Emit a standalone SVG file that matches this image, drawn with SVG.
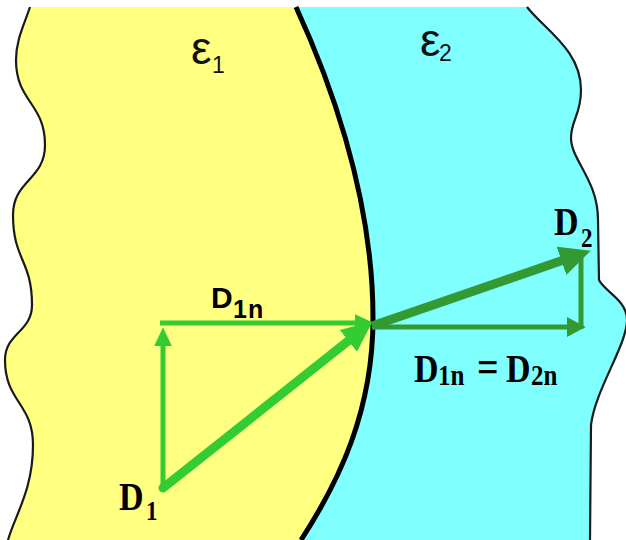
<svg xmlns="http://www.w3.org/2000/svg" width="626" height="540" viewBox="0 0 626 540">
<defs>
<style>
.edge{fill:none;stroke:#1a1a1a;stroke-width:2.2;stroke-linejoin:round}
.bound{fill:none;stroke:#000;stroke-width:5}
.lg{stroke:#33cc33;fill:none}
.dg{stroke:#339933;fill:none}
.thin{stroke-width:5}
.thick{stroke-width:9}
.eps{font-family:"Liberation Sans",Arial,sans-serif;font-size:46px;fill:#111}
.epsub{font-family:"Liberation Sans",Arial,sans-serif;font-size:23px;fill:#111}
.tb{font-family:"Liberation Serif","Times New Roman",serif;font-weight:bold;fill:#000}
.sb{font-family:"Liberation Sans",Arial,sans-serif;font-weight:bold;fill:#000}
</style>
<marker id="hLgThin" markerUnits="userSpaceOnUse" markerWidth="20" markerHeight="20" viewBox="0 0 18 16" refX="1" refY="8" orient="auto"><path d="M0,0 L17,8 L0,16 Z" fill="#33cc33"/></marker>
<marker id="hLgThick" markerUnits="userSpaceOnUse" markerWidth="32" markerHeight="30" viewBox="0 0 30 26" refX="2" refY="13" orient="auto"><path d="M0,0 L29,13 L0,26 Z" fill="#33cc33"/></marker>
<marker id="hDgThin" markerUnits="userSpaceOnUse" markerWidth="20" markerHeight="20" viewBox="0 0 18 18" refX="1" refY="9" orient="auto"><path d="M0,0 L17,9 L0,18 Z" fill="#339933"/></marker>
<marker id="hDgThick" markerUnits="userSpaceOnUse" markerWidth="32" markerHeight="30" viewBox="0 0 30 28" refX="2" refY="14" orient="auto"><path d="M0,0 L29,14 L0,28 Z" fill="#339933"/></marker>
</defs>
<rect width="626" height="540" fill="#fff"/>
<g id="medium2">
<rect x="200" y="7" width="426" height="533" fill="#80ffff"/>
</g>
<g id="medium1">
<path d="M296,7 C325,70 373,190 373,318 C373,410 340,480 301,540 L0,540 L0,7 Z" fill="#ffff80"/>
</g>
<g id="outline">
<path d="M30,7 C24,25 16,40 16,60 C16,102 45,103 45,145 C45,180 13,180 13,215 C13,260 32,260 32,305 C32,332 5,333 5,360 C5,402 33,403 33,445 C33,490 15,515 8,540 L0,540 L0,7 Z" fill="#fff"/>
<path d="M527,7 C545,30 581,50 581,90 C581,115 571,120 571,138 C571,160 598,180 598,220 L599,280 C605,292 627,300 627,320 C627,345 595,390 591,425 L590,540 L626,540 L626,7 Z" fill="#fff"/>
<path class="edge" d="M30,7 C24,25 16,40 16,60 C16,102 45,103 45,145 C45,180 13,180 13,215 C13,260 32,260 32,305 C32,332 5,333 5,360 C5,402 33,403 33,445 C33,490 15,515 8,540"/>
<path class="edge" d="M527,7 C545,30 581,50 581,90 C581,115 571,120 571,138 C571,160 598,180 598,220 L599,280 C605,292 627,300 627,320 C627,345 595,390 591,425 L590,540"/>
<path class="bound" d="M296,7 C325,70 373,190 373,318 C373,410 340,480 301,540"/>
</g>
<g id="connectors">
<line class="lg thin" x1="163" y1="490" x2="163" y2="345" marker-end="url(#hLgThin)"/>
<line class="lg thin" x1="160" y1="323" x2="356" y2="323" marker-end="url(#hLgThin)"/>
<line class="lg thick" x1="163" y1="488" x2="350" y2="339.5" stroke-linecap="round" marker-end="url(#hLgThick)"/>
<line class="dg thin" x1="372" y1="327" x2="568" y2="327" marker-end="url(#hDgThin)"/>
<line class="dg thin" x1="581" y1="329" x2="581" y2="258"/>
<line class="dg thick" x1="372" y1="326" x2="563.5" y2="260.1" marker-end="url(#hDgThick)"/>
</g>
<g id="labels">
<text class="eps" x="191" y="64">ε</text><text class="epsub" x="212" y="73">1</text>
<text class="eps" x="420" y="56">ε</text><text class="epsub" x="439" y="61">2</text>
<g id="lbl-D1n"><text class="sb" x="211" y="308" font-size="30">D</text><text class="sb" x="233" y="318" font-size="25" letter-spacing="1">1n</text></g>
<g id="lbl-D1"><text class="tb" transform="translate(119,510) scale(1,1.2)" font-size="34">D</text><text class="tb" transform="translate(146,520) scale(1,1.2)" font-size="23">1</text></g>
<g id="lbl-D2"><text class="tb" transform="translate(554,235) scale(1,1.2)" font-size="34">D</text><text class="tb" transform="translate(581,247) scale(1,1.2)" font-size="23">2</text></g>
<g id="lbl-eq"><text class="tb" transform="translate(414,382) scale(1,1.2)" font-size="34">D</text><text class="tb" transform="translate(438,385) scale(1,1.2)" font-size="25">1n</text><text class="tb" transform="translate(477,382) scale(1,1.2)" font-size="38">=</text><text class="tb" transform="translate(506,382) scale(1,1.2)" font-size="34">D</text><text class="tb" transform="translate(531,385) scale(1,1.2)" font-size="25">2n</text></g>
</g>
</svg>
